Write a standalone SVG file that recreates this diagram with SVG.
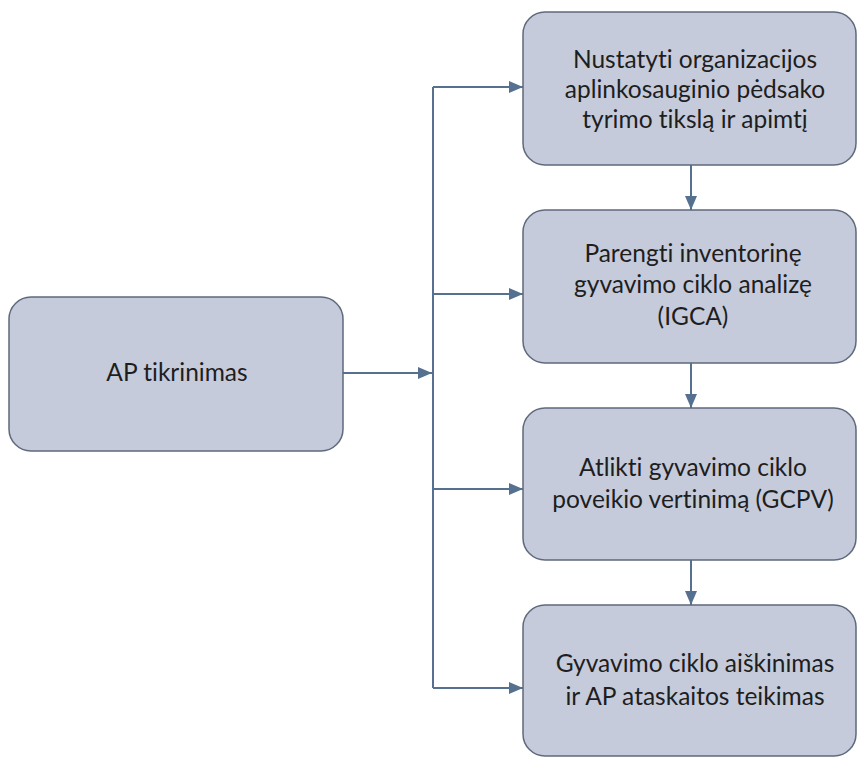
<svg xmlns="http://www.w3.org/2000/svg" width="857" height="758" viewBox="0 0 857 758">
<style>
.box{fill:#c5cbdb;stroke:#5f6a7c;stroke-width:1.5}
.t{font-family:Lato,"Open Sans","Liberation Sans",sans-serif;font-size:24.5px;fill:#1e1e1e;text-anchor:middle;font-variant-ligatures:none}
.c{fill:none;stroke:#56708f;stroke-width:2}
</style>
<defs>
<marker id="ah" viewBox="0 0 14 12" refX="14" refY="6" markerWidth="14" markerHeight="12" markerUnits="userSpaceOnUse" orient="auto">
<path d="M0,0 L14,6 L0,12 Z" fill="#56708f"/>
</marker>
</defs>
<rect width="857" height="758" fill="#ffffff"/>
<g id="connectors">
<path class="c" d="M343,373 H432" marker-end="url(#ah)"/>
<path class="c" d="M433,87 V688"/>
<path class="c" d="M433,87 H523" marker-end="url(#ah)"/>
<path class="c" d="M433,294 H523" marker-end="url(#ah)"/>
<path class="c" d="M433,489 H523" marker-end="url(#ah)"/>
<path class="c" d="M433,688 H523" marker-end="url(#ah)"/>
<path class="c" d="M691,165 V210" marker-end="url(#ah)"/>
<path class="c" d="M691,363 V408" marker-end="url(#ah)"/>
<path class="c" d="M691,560 V605" marker-end="url(#ah)"/>
</g>
<g id="ap-tikrinimas">
<rect class="box" x="9" y="297" width="334" height="154" rx="22"/>
<text class="t" x="177" y="381">AP tikrinimas</text>
</g>
<g id="step1">
<rect class="box" x="523" y="12" width="333" height="153" rx="22"/>
<text class="t" x="695" y="68">Nustatyti organizacijos</text>
<text class="t" x="695" y="98">aplinkosauginio pėdsako</text>
<text class="t" x="695" y="128">tyrimo tikslą ir apimtį</text>
</g>
<g id="step2">
<rect class="box" x="523" y="210" width="333" height="153" rx="22"/>
<text class="t" x="693" y="262">Parengti inventorinę</text>
<text class="t" x="693" y="293">gyvavimo ciklo analizę</text>
<text class="t" x="693" y="325">(IGCA)</text>
</g>
<g id="step3">
<rect class="box" x="523" y="408" width="333" height="152" rx="22"/>
<text class="t" x="693" y="476">Atlikti gyvavimo ciklo</text>
<text class="t" x="693" y="508">poveikio vertinimą (GCPV)</text>
</g>
<g id="step4">
<rect class="box" x="523" y="605" width="333" height="151" rx="22"/>
<text class="t" x="695" y="672">Gyvavimo ciklo aiškinimas</text>
<text class="t" x="695" y="705">ir AP ataskaitos teikimas</text>
</g>
</svg>
